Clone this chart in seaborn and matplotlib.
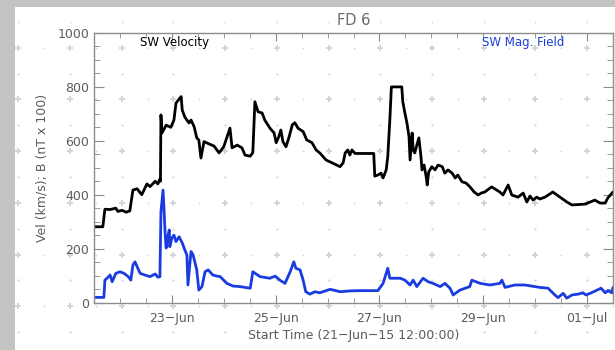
import numpy as np
import pandas as pd
import matplotlib
matplotlib.use("Agg")
import matplotlib.pyplot as plt
import matplotlib.dates as mdates
from matplotlib.patches import Rectangle
from matplotlib.lines import Line2D
import seaborn as sns

# ---------------- data ----------------
start_time = "2015-06-21 12:00:00"

# solar wind velocity (km/s); time in days after start
vel_days = [0.00, 0.17, 0.21, 0.31, 0.42, 0.46, 0.54, 0.62, 0.69, 0.75, 0.83, 0.92,
            1.02, 1.08, 1.18, 1.23, 1.27, 1.28, 1.29, 1.31, 1.39, 1.48, 1.54, 1.58,
            1.64, 1.68, 1.70, 1.75, 1.83, 1.87, 1.93, 1.98, 2.02, 2.06, 2.12, 2.22,
            2.31, 2.41, 2.50, 2.62, 2.66, 2.76, 2.85, 2.91, 3.01, 3.06, 3.10, 3.16,
            3.24, 3.29, 3.39, 3.47, 3.51, 3.56, 3.60, 3.64, 3.70, 3.76, 3.82, 3.87,
            3.93, 4.03, 4.10, 4.20, 4.28, 4.35, 4.47, 4.59, 4.68, 4.74, 4.80, 4.84,
            4.89, 4.93, 4.97, 5.03, 5.39, 5.41, 5.47, 5.53, 5.57, 5.63, 5.66, 5.70,
            5.73, 5.93, 5.95, 5.99, 6.03, 6.07, 6.09, 6.11, 6.13, 6.15, 6.18, 6.22,
            6.26, 6.30, 6.32, 6.36, 6.40, 6.42, 6.45, 6.51, 6.57, 6.63, 6.71, 6.76,
            6.82, 6.90, 6.96, 7.01, 7.09, 7.17, 7.24, 7.32, 7.40, 7.46, 7.53, 7.66,
            7.82, 7.88, 7.98, 8.05, 8.17, 8.27, 8.34, 8.40, 8.46, 8.53, 8.59, 8.69,
            8.84, 8.98, 9.11, 9.21, 9.46, 9.65, 9.75, 9.85, 9.90, 10.00]
vel_vals = [281, 281, 346, 345, 350, 338, 342, 335, 340, 417, 422, 400,
            440, 430, 450, 440, 458, 450, 696, 629, 658, 650, 677, 740,
            755, 764, 714, 688, 666, 677, 652, 611, 603, 536, 597, 588,
            581, 555, 578, 647, 574, 584, 574, 547, 543, 556, 745, 708,
            703, 677, 647, 629, 593, 615, 640, 597, 578, 615, 659, 667,
            647, 634, 603, 593, 566, 555, 529, 518, 510, 504, 518, 555,
            566, 547, 566, 553, 553, 469, 473, 480, 462, 492, 541, 677,
            800, 800, 745, 703, 666, 615, 529, 578, 629, 566, 555, 584,
            611, 541, 492, 510, 467, 436, 485, 504, 492, 510, 504, 480,
            492, 480, 462, 473, 448, 443, 430, 411, 399, 406, 410, 429,
            410, 399, 436, 399, 391, 406, 373, 395, 380, 391, 384, 391,
            410, 391, 373, 362, 365, 380, 369, 369, 388, 410]

# solar wind magnetic field (nT x 100)
mag_days = [0.00, 0.19, 0.21, 0.25, 0.31, 0.35, 0.42, 0.50, 0.58, 0.66, 0.71, 0.75,
            0.79, 0.83, 0.89, 0.98, 1.08, 1.18, 1.23, 1.27, 1.29, 1.33, 1.35, 1.37,
            1.39, 1.41, 1.45, 1.46, 1.50, 1.54, 1.58, 1.64, 1.70, 1.75, 1.79, 1.81,
            1.85, 1.87, 1.91, 1.98, 2.02, 2.08, 2.14, 2.20, 2.29, 2.37, 2.43, 2.56,
            2.68, 2.81, 3.01, 3.06, 3.20, 3.39, 3.49, 3.58, 3.68, 3.78, 3.85, 3.89,
            3.97, 4.03, 4.08, 4.16, 4.26, 4.35, 4.55, 4.74, 4.93, 5.13, 5.47, 5.57,
            5.66, 5.70, 5.90, 5.99, 6.09, 6.15, 6.22, 6.34, 6.44, 6.53, 6.67, 6.76,
            6.86, 6.92, 7.05, 7.24, 7.28, 7.44, 7.63, 7.82, 7.86, 7.92, 8.11, 8.30,
            8.59, 8.75, 8.88, 8.94, 9.04, 9.11, 9.21, 9.33, 9.42, 9.48, 9.56, 9.77,
            9.85, 9.90, 9.98, 10.00]
mag_vals = [19, 19, 83, 90, 102, 77, 108, 114, 108, 96, 83, 139,
            151, 133, 108, 102, 96, 106, 94, 96, 337, 417, 343, 258,
            202, 232, 269, 207, 239, 250, 226, 244, 221, 195, 176, 65,
            150, 189, 176, 121, 46, 59, 114, 121, 102, 98, 96, 71,
            61, 59, 53, 114, 96, 90, 98, 83, 71, 114, 151, 127,
            121, 83, 40, 31, 40, 36, 49, 40, 43, 44, 44, 71,
            127, 90, 90, 83, 65, 83, 59, 90, 77, 71, 59, 71,
            53, 28, 46, 59, 83, 71, 65, 71, 83, 56, 65, 65,
            56, 53, 28, 18, 34, 16, 28, 31, 36, 28, 34, 53,
            36, 44, 36, 56]

x_tick_dates = ["2015-06-23", "2015-06-25", "2015-06-27", "2015-06-29", "2015-07-01"]
x_tick_labels = ["23\u2212Jun", "25\u2212Jun", "27\u2212Jun", "29\u2212Jun", "01\u2212Jul"]
y_ticks = [0, 200, 400, 600, 800, 1000]

# ---------------- style ----------------
sns.set_style("ticks")
plt.rcParams["font.family"] = ["DejaVu Sans"]

W, H = 615, 350
fig = plt.figure(figsize=(W / 100, H / 100), dpi=100, facecolor="#c4c4c4")
fig.add_artist(Rectangle((15 / W, 0), 1 - 15 / W, 343 / H, transform=fig.transFigure,
                         facecolor="white", edgecolor="none", zorder=-3))

# faint background dot pattern of the slide
gx = np.arange(18.3, W + 30, 51.7)
gy = np.arange(47.7, H + 30, 51.7)
PX, PY = np.meshgrid(gx, gy)
fig.add_artist(Line2D(PX.ravel() / W, 1 - PY.ravel() / H, transform=fig.transFigure,
                      linestyle="none", marker="+", ms=4.5, mew=1.3, color="#d2d2d2", zorder=-2))
dots_x = np.concatenate([(PX + 25.85).ravel(), PX.ravel(), PX.ravel()])
dots_y = np.concatenate([PY.ravel(), (PY + 25.85).ravel(), (PY - 25.85).ravel()])
fig.add_artist(Line2D(dots_x / W, 1 - dots_y / H, transform=fig.transFigure,
                      linestyle="none", marker="o", ms=1.4, mew=0, color="#d8d8d8", zorder=-2))

ax = fig.add_axes([94 / W, 1 - 302.5 / H, 519 / W, 269.5 / H])
ax.set_facecolor("none")

t0 = pd.Timestamp(start_time)
vel_df = pd.DataFrame({"time": t0 + pd.to_timedelta(vel_days, unit="D"), "value": vel_vals})
mag_df = pd.DataFrame({"time": t0 + pd.to_timedelta(mag_days, unit="D"), "value": mag_vals})

sns.lineplot(data=vel_df, x="time", y="value", color="black", lw=2.0, ax=ax,
             estimator=None, sort=False)
sns.lineplot(data=mag_df, x="time", y="value", color="#1a3be0", lw=2.0, ax=ax,
             estimator=None, sort=False)

ax.set_xlim(t0, t0 + pd.Timedelta(days=10))
ax.set_ylim(0, 1000)

ax.set_xticks(pd.to_datetime(x_tick_dates))
ax.set_xticklabels(x_tick_labels)
ax.xaxis.set_minor_locator(mdates.HourLocator(byhour=[0, 12]))
ax.set_yticks(y_ticks)
ax.set_yticklabels([str(v) for v in y_ticks])
ax.yaxis.set_minor_locator(matplotlib.ticker.MultipleLocator(50))

gray = "#8c8c8c"
lab = "#5c5c5c"
for s in ax.spines.values():
    s.set_visible(True)
    s.set_color(gray)
    s.set_linewidth(1.0)
ax.tick_params(which="both", direction="in", top=True, right=True, color=gray,
               labelcolor=lab, labelsize=9)
ax.tick_params(axis="x", which="major", length=6, pad=6.5)
ax.tick_params(axis="x", which="minor", length=3.5)
ax.tick_params(axis="y", which="major", length=7, pad=3.5)
ax.tick_params(axis="y", which="minor", length=4)

ax.set_xlabel("Start Time (21\u2212Jun\u221215 12:00:00)", fontsize=9, color=lab, labelpad=3)
ax.set_ylabel("Vel (km/s); B (nT x 100)", fontsize=9, color=lab, labelpad=6)
ax.set_title("FD 6", fontsize=10.5, color="#6a6a6a", pad=6)

ax.text(0.0886, 0.966, "SW Velocity", transform=ax.transAxes, fontsize=8.5,
        color="black", ha="left", va="center")
ax.text(0.7476, 0.966, "SW Mag. Field", transform=ax.transAxes, fontsize=8.5,
        color="#1a3be0", ha="left", va="center")

fig.savefig("out.png", dpi=100, facecolor=fig.get_facecolor())
